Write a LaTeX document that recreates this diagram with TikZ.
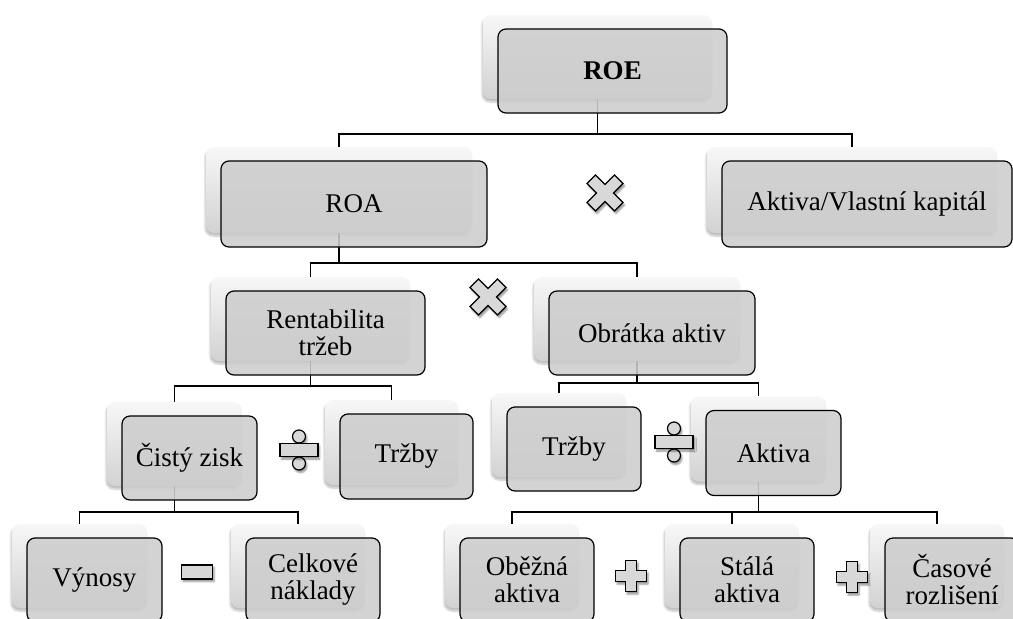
\documentclass[tikz,border=0pt]{standalone}
\usepackage{fontspec}
\setmainfont{Liberation Serif}
\usetikzlibrary{shadows.blur}

\definecolor{tilegray}{HTML}{CDCDCD}
\definecolor{backtop}{HTML}{F7F7F7}
\definecolor{backbot}{HTML}{D2D2D2}
\definecolor{symfill}{HTML}{D8D8D8}

\tikzset{
  card/.style={rectangle, rounded corners=8pt, draw=black, line width=1.2pt,
    fill=tilegray, fill opacity=0.88, text opacity=1, align=center,
    inner sep=0pt, font=\fontsize{27}{27}\selectfont},
  backcard/.style={rectangle, rounded corners=8pt, top color=backtop,
    bottom color=backbot, inner sep=0pt, xshift=-15pt, yshift=14pt,
    blur shadow={shadow xshift=-1pt, shadow yshift=-3pt,
      shadow blur steps=6, shadow opacity=25}},
  link/.style={line width=1.2pt, draw=black},
  sign/.style={draw=black, line width=1.2pt, fill=symfill,
    blur shadow={shadow xshift=1.5pt, shadow yshift=-2.5pt,
      shadow blur steps=4, shadow opacity=45}},
}

% back layer of a tile: name, centre, width, height
\newcommand\backtile[4]{\node[backcard, minimum width=#3pt, minimum height=#4pt] (#1B) at (#2) {};}
% front layer of a tile: name, centre, width, height, text
\newcommand\fronttile[5]{\node[card, minimum width=#3pt, minimum height=#4pt] (#1) at (#2) {#5};}

\begin{document}
\begin{tikzpicture}[x=1pt, y=-1pt]
\useasboundingbox (0,0) rectangle (1013,619);
\clip (0,0) rectangle (1013,619);

% ---------- back tiles ----------
\backtile{roe}{612.5,71}{229}{84}
\backtile{roa}{354,204}{266}{86}
\backtile{avk}{867,204}{290}{86}
\backtile{rent}{325.5,333}{199}{84}
\backtile{obr}{652,333}{206}{84}
\backtile{cz}{189.5,458}{135}{84}
\backtile{trzL}{406.5,456.5}{133}{85}
\backtile{trzR}{574,449}{134}{84}
\backtile{akt}{773.5,453}{135}{85}
\backtile{vyn}{94.5,580}{135}{84}
\backtile{cel}{313,580}{134}{84}
\backtile{obez}{527,580}{134}{84}
\backtile{stala}{747,580}{134}{84}
\backtile{cas}{952,580}{134}{84}

% ---------- connectors ----------
\coordinate (busA) at (600,134);
\coordinate (busB) at (480,263);
\coordinate (busC) at (280,386);
\coordinate (busD) at (640,383);
\coordinate (busE) at (180,512);
\coordinate (busF) at (700,512);

\draw[link] (roeB.south) -- (roeB.south |- busA);
\draw[link] (roaB.north) |- (busA) -| (avkB.north);

\draw[link] (roaB.south) -- (roaB.south |- busB);
\draw[link] (rentB.north) |- (busB) -| (obrB.north);

\draw[link] (rentB.south) -- (rentB.south |- busC);
\draw[link] (czB.north) |- (busC) -| (trzLB.north);

\draw[link] (obrB.south) -- (obrB.south |- busD);
\draw[link] (trzRB.north) |- (busD) -| (aktB.north);

\draw[link] (czB.south) -- (czB.south |- busE);
\draw[link] (vynB.north) |- (busE) -| (celB.north);

\draw[link] (aktB.south) -- (aktB.south |- busF);
\draw[link] (obezB.north) |- (busF) -| (casB.north);
\draw[link] (stalaB.north) -- (stalaB.north |- busF);

% ---------- front tiles ----------
\fronttile{roe}{612.5,71}{229}{84}{\textbf{ROE}}
\fronttile{roa}{354,204}{266}{86}{ROA}
\fronttile{avk}{867,204}{290}{86}{Aktiva/Vlastní kapitál}
\fronttile{rent}{325.5,333}{199}{84}{Rentabilita\\tržeb}
\fronttile{obr}{652,333}{206}{84}{Obrátka aktiv}
\fronttile{cz}{189.5,458}{135}{84}{Čistý zisk}
\fronttile{trzL}{406.5,456.5}{133}{85}{Tržby}
\fronttile{trzR}{574,449}{134}{84}{Tržby}
\fronttile{akt}{773.5,453}{135}{85}{Aktiva}
\fronttile{vyn}{94.5,580}{135}{84}{Výnosy}
\fronttile{cel}{313,580}{134}{84}{Celkové\\náklady}
\fronttile{obez}{527,580}{134}{84}{Oběžná\\aktiva}
\fronttile{stala}{747,580}{134}{84}{Stálá\\aktiva}
\fronttile{cas}{952,580}{134}{84}{Časové\\rozlišení}

% ---------- operator signs ----------
% multiplication crosses
\foreach \px/\py in {605/193, 488/297} {
  \begin{scope}[shift={(\px,\py)}, rotate=45]
    \draw[sign] (6,19.5) -- (6,6) -- (19.5,6) -- (19.5,-6) -- (6,-6) -- (6,-19.5)
      -- (-6,-19.5) -- (-6,-6) -- (-19.5,-6) -- (-19.5,6) -- (-6,6) -- (-6,19.5) -- cycle;
  \end{scope}
}
% division signs
\foreach \px/\py in {299/450, 674/442} {
  \begin{scope}[shift={(\px,\py)}]
    \draw[sign] (0,-13.5) circle[radius=6.5pt];
    \draw[sign] (0,13.5) circle[radius=6.5pt];
    \draw[sign] (-19,-6.5) rectangle (19,6.5);
  \end{scope}
}
% minus sign
\draw[sign] (181.5,565) rectangle (212.5,579);
% plus signs
\foreach \px/\py in {631/576, 852/577} {
  \begin{scope}[shift={(\px,\py)}]
    \draw[sign] (5.5,15.5) -- (5.5,5.5) -- (15.5,5.5) -- (15.5,-5.5) -- (5.5,-5.5) -- (5.5,-15.5)
      -- (-5.5,-15.5) -- (-5.5,-5.5) -- (-15.5,-5.5) -- (-15.5,5.5) -- (-5.5,5.5) -- (-5.5,15.5) -- cycle;
  \end{scope}
}
\end{tikzpicture}
\end{document}
